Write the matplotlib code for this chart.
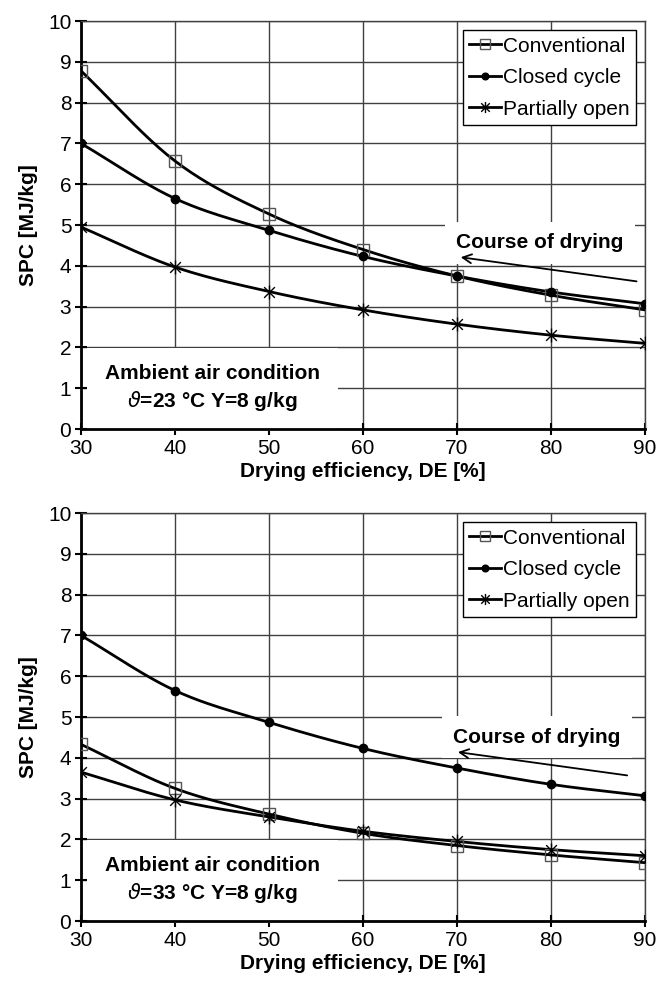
import numpy as np
import matplotlib
matplotlib.use("Agg")
import matplotlib.pyplot as plt
from matplotlib.path import Path

plt.rcParams['font.family'] = ['Liberation Sans', 'DejaVu Sans']

# drying efficiency [%]
de = [30, 40, 50, 60, 70, 80, 90]

# SPC [MJ/kg], ambient 23 °C
conv_23 = [8.78, 6.57, 5.27, 4.40, 3.75, 3.28, 2.92]
closed_23 = [7.00, 5.65, 4.87, 4.23, 3.75, 3.36, 3.07]
partial_23 = [4.95, 3.97, 3.37, 2.92, 2.57, 2.30, 2.10]

# SPC [MJ/kg], ambient 33 °C
conv_33 = [4.33, 3.25, 2.62, 2.15, 1.85, 1.62, 1.43]
closed_33 = [7.00, 5.65, 4.87, 4.23, 3.75, 3.35, 3.07]
partial_33 = [3.65, 2.97, 2.55, 2.20, 1.95, 1.75, 1.60]

ambient = [r'$\vartheta$=23 °C Y=8 g/kg', r'$\vartheta$=33 °C Y=8 g/kg']

# excel-like star marker: x with a vertical bar
star = Path([(-1, -1), (1, 1), (-1, 1), (1, -1), (0, -1.3), (0, 1.3)],
            [Path.MOVETO, Path.LINETO, Path.MOVETO, Path.LINETO, Path.MOVETO, Path.LINETO])


def smooth(x, y, n=24):
    # catmull-rom curve through the points (like excel "smoothed line")
    x = np.asarray(x, float)
    y = np.asarray(y, float)
    px = np.concatenate([[2 * x[0] - x[1]], x, [2 * x[-1] - x[-2]]])
    py = np.concatenate([[2 * y[0] - y[1]], y, [2 * y[-1] - y[-2]]])
    t = np.linspace(0, 1, n)[:-1]
    xs, ys = [], []
    for i in range(1, len(px) - 2):
        for p, out in ((px, xs), (py, ys)):
            p0, p1, p2, p3 = p[i - 1], p[i], p[i + 1], p[i + 2]
            out.extend(0.5 * (2 * p1 + (-p0 + p2) * t + (2 * p0 - 5 * p1 + 4 * p2 - p3) * t ** 2
                              + (-p0 + 3 * p1 - 3 * p2 + p3) * t ** 3))
    xs.append(x[-1])
    ys.append(y[-1])
    return xs, ys


fig = plt.figure(figsize=(6.57, 9.84), dpi=100)
ax1 = fig.add_axes([0.1233, 0.564, 0.8584, 0.4146])
ax2 = fig.add_axes([0.1233, 0.064, 0.8584, 0.4146])

panels = [(ax1, conv_23, closed_23, partial_23, ambient[0], (70.1, 4.22), (89.4, 3.61), (78.8, 4.56)),
          (ax2, conv_33, closed_33, partial_33, ambient[1], (69.8, 4.15), (88.4, 3.56), (78.5, 4.51))]

for ax, conv, closed, partial, amb, tip, tail, txt in panels:
    series = [(conv, 's', 'none', 9, 'Conventional'),
              (closed, 'o', 'black', 6, 'Closed cycle'),
              (partial, star, 'none', 10, 'Partially open')]
    for vals, mk, fc, ms, lab in series:
        sx, sy = smooth(de, vals)
        ax.plot(sx, sy, color='black', lw=2.0, zorder=3)
        ax.plot(de, vals, ls='none', marker=mk, ms=ms, mfc=fc, mec='black' if mk != 's' else '#555555',
                mew=1.0, zorder=4)
        ax.plot([], [], color='black', lw=2.0, marker=mk, ms=ms * 0.8, mfc=fc,
                mec='black' if mk != 's' else '#555555', mew=1.0, label=lab)

    ax.set_xlim(30, 90)
    ax.set_ylim(0, 10)
    ax.set_xticks(de)
    ax.set_yticks(range(0, 11))
    ax.grid(True, color='#404040', lw=1.0)
    ax.set_axisbelow(True)
    for s in ['top', 'right']:
        ax.spines[s].set_color('#404040')
        ax.spines[s].set_linewidth(1.0)
    for s in ['left', 'bottom']:
        ax.spines[s].set_linewidth(2.0)
    ax.tick_params(direction='inout', length=8, width=1.5, labelsize=15, pad=3)
    ax.set_xlabel('Drying efficiency, DE [%]', fontsize=15, fontweight='bold', labelpad=3)
    ax.set_ylabel('SPC [MJ/kg]', fontsize=15, fontweight='bold', labelpad=7)

    ax.text(44.0, 1.0, 'Ambient air condition\n' + amb, ha='center', va='center',
            fontsize=15, fontweight='bold', linespacing=1.35, zorder=1,
            bbox=dict(boxstyle='square,pad=0.85', fc='white', ec='none'))
    ax.text(txt[0], txt[1], 'Course of drying', ha='center', va='center',
            fontsize=15, fontweight='bold', zorder=1,
            bbox=dict(boxstyle='square,pad=0.55', fc='white', ec='none'))
    ax.annotate('', xy=tip, xytext=tail,
                arrowprops=dict(arrowstyle='->', lw=1.3, color='black', mutation_scale=16),
                zorder=5)

    leg = ax.legend(loc='upper right', fontsize=15, frameon=True, fancybox=False,
                    edgecolor='black', framealpha=1, handlelength=1.5, handletextpad=0.1,
                    labelspacing=0.6, borderpad=0.3, borderaxespad=0.45)
    leg.get_frame().set_linewidth(1.0)

fig.savefig('out.png', dpi=100)
